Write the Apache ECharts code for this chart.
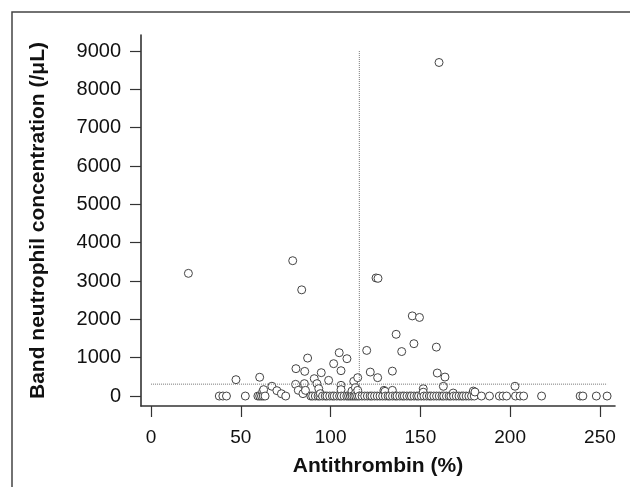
<!DOCTYPE html>
<html>
<head>
<meta charset="utf-8">
<script src="https://cdn.jsdelivr.net/npm/echarts@6/dist/echarts.min.js"></script>
<style>
  html, body { margin: 0; padding: 0; background: #fff; }
  #chart { width: 630px; height: 487px; }
</style>
</head>
<body>
<div id="chart"></div>
<script>
// tick labels
var xTicks = [0, 50, 100, 150, 200, 250];
var yTicks = [0, 1000, 2000, 3000, 4000, 5000, 6000, 7000, 8000, 9000];

// patients with band neutrophils = 0 (antithrombin %)
var zeroAT = [38, 40, 42, 52.5, 59.5, 60.5, 61.5, 62.5, 63.5, 75, 89, 90, 91.5, 93, 94,
  95.5, 97, 98, 99.5, 101, 102, 103.5, 105, 106, 107.5, 109, 110, 111, 112, 113, 114,
  115, 116, 117.5, 119, 120.5, 122, 123, 124.5, 126, 127.5, 129, 130.5, 132, 133,
  134.5, 136, 137, 138.5, 140, 141, 142.5, 144, 145, 146.5, 148, 149, 150.5, 152,
  153.5, 155, 156, 157.5, 159, 160.5, 162, 163, 164.5, 166, 167, 168.5, 170, 171.5,
  173, 174, 175.5, 177, 178.5, 180, 184, 188.5, 194, 196, 198, 203, 205.5, 207.5,
  217.5, 239, 240.5, 248, 254];

// patients with band neutrophils > 0
var posAT = [20.8, 47.3, 60.5, 62.2, 62.7, 67.3, 70.1, 72.6, 78.9, 80.5, 80.7, 82, 83.9,
  84.6, 85.4, 85.6, 86, 87.2, 90.9, 92.4, 93.4, 94.3, 94.8, 98.9, 101.7, 104.8, 105.8,
  105.8, 105.8, 109.1, 111.7, 111.9, 112.9, 113.8, 113.9, 115.1, 115.1, 120.1, 122.1,
  125.3, 126.2, 126.4, 129.7, 130.3, 134.4, 134.4, 136.5, 139.6, 145.5, 146.4, 149.5,
  151.6, 151.6, 158.9, 159.4, 160.4, 162.8, 163.7, 168.3, 179.5, 180.4, 202.7];
var posBand = [3200, 427, 490, 120, 167, 255, 140, 60, 3530, 305, 714, 150, 2770,
  62, 323, 643, 148, 990, 453, 323, 193, 62, 609, 409, 844, 1130, 661,
  279, 167, 974, 60, 130, 383, 219, 80, 479, 148, 1190, 625,
  3080, 479, 3070, 148, 122, 650, 148, 1610, 1160, 2090, 1365, 2050,
  190, 100, 1276, 600, 8700, 253, 495, 78, 130, 105, 255];

// cut-off lines
var atCut = 116;
var bandCut = 310;

var points = [];
zeroAT.forEach(function (x) { points.push([x, 0]); });
posAT.forEach(function (x, i) { points.push([x, posBand[i]]); });
points.sort(function (a, b) { return a[0] - b[0]; });

var chart = echarts.init(document.getElementById('chart'));

var font = 'Liberation Sans, Arial, sans-serif';
var axisCommon = {
  axisLine: { show: true, onZero: false, lineStyle: { color: '#333', width: 1.6 } },
  axisTick: { show: true, length: 11, lineStyle: { color: '#333', width: 1.2 } },
  splitLine: { show: false },
  nameTextStyle: { color: '#111', fontSize: 21, fontWeight: 'bold', fontFamily: font }
};

var option = {
  backgroundColor: '#fff',
  animation: false,
  graphic: [{
    type: 'rect',
    shape: { x: 12, y: 12, width: 700, height: 700 },
    style: { fill: 'none', stroke: '#444', lineWidth: 1.5 },
    silent: true
  }],
  grid: { left: 141, right: 15, top: 35, bottom: 81 },
  xAxis: Object.assign({}, axisCommon, {
    type: 'value',
    min: -5.6,
    max: 258.4,
    name: 'Antithrombin (%)',
    nameLocation: 'middle',
    nameGap: 50,
    axisTick: Object.assign({}, axisCommon.axisTick, { customValues: xTicks }),
    axisLabel: { customValues: xTicks, margin: 22, color: '#111', fontSize: 19, fontFamily: font }
  }),
  yAxis: Object.assign({}, axisCommon, {
    type: 'value',
    min: -260,
    max: 9417,
    name: 'Band neutrophil concentration (/\u03bcL)',
    nameLocation: 'middle',
    nameGap: 92,
    axisTick: Object.assign({}, axisCommon.axisTick, { customValues: yTicks }),
    axisLabel: {
      customValues: yTicks, margin: 20, color: '#111', fontSize: 20, fontFamily: font,
      formatter: function (v) { return String(v); }
    }
  }),
  series: [
    {
      type: 'line',
      data: [[atCut, 0], [atCut, 9000]],
      symbol: 'none',
      lineStyle: { color: '#777', width: 1, type: 'dotted' },
      silent: true
    },
    {
      type: 'line',
      data: [[0, bandCut], [254, bandCut]],
      symbol: 'none',
      lineStyle: { color: '#777', width: 1, type: 'dotted' },
      silent: true
    },
    {
      type: 'scatter',
      data: points,
      symbol: 'circle',
      symbolSize: 8,
      itemStyle: { color: '#fff', borderColor: '#444', borderWidth: 1, opacity: 1 }
    }
  ]
};

chart.setOption(option);
</script>
</body>
</html>
